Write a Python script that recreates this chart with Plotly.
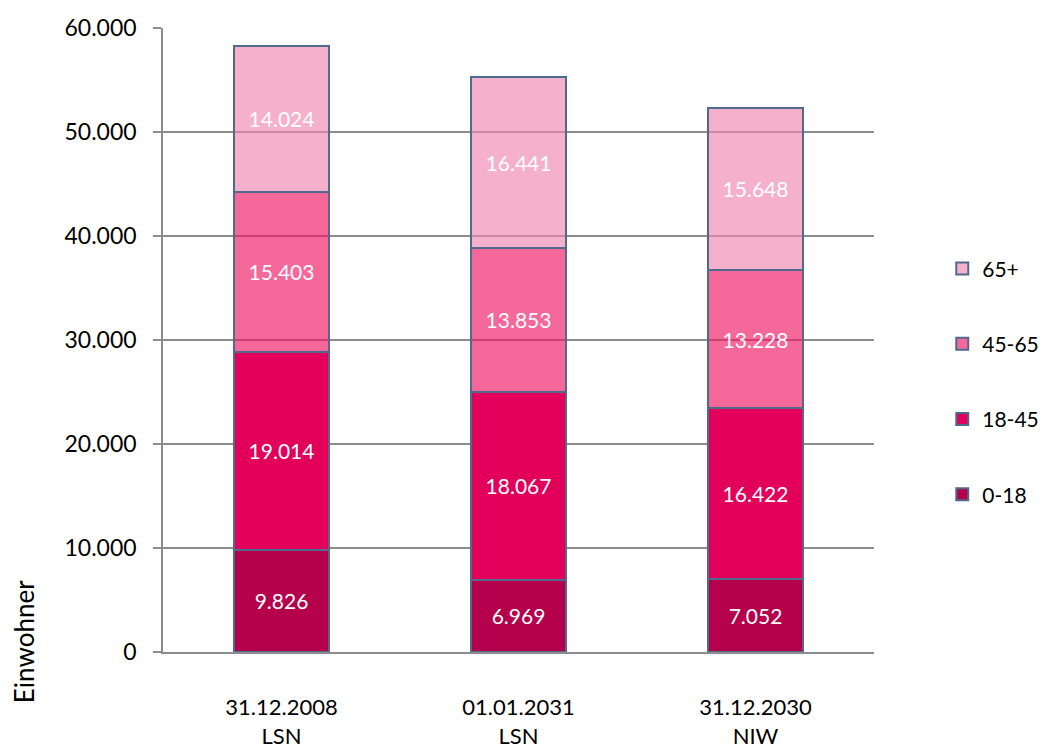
import plotly.graph_objects as go

categories = ["31.12.2008<br>LSN", "01.01.2031<br>LSN", "31.12.2030<br>NIW"]
series_names = ["0-18", "18-45", "45-65", "65+"]
v_0_18 = [9826, 6969, 7052]
v_18_45 = [19014, 18067, 16422]
v_45_65 = [15403, 13853, 13228]
v_65 = [14024, 16441, 15648]
y_ticks = [0, 10000, 20000, 30000, 40000, 50000, 60000]

series_values = [v_0_18, v_18_45, v_45_65, v_65]
colors = ["#B5004B", "#E2005A", "rgba(240,23,100,0.65)", "rgba(240,134,177,0.65)"]

FONT = "Lato"
fig = go.Figure()
for i, (name, vals, col) in enumerate(zip(series_names, series_values, colors)):
    fig.add_trace(go.Bar(
        x=categories, y=vals, name=name, legendgroup=name,
        legendrank=100 - i,
        marker=dict(color=col, line=dict(color="#4F6A8C", width=2)),
        texttemplate="%{y:,d}", textposition="inside", insidetextanchor="middle",
        textfont=dict(color="white", size=21, family=FONT),
        width=0.4,
    ))

fig.update_layout(
    barmode="stack",
    separators=",.",
    width=1039, height=743,
    margin=dict(l=155, r=173, t=20, b=99, autoexpand=False),
    plot_bgcolor="white", paper_bgcolor="white",
    font=dict(family=FONT, size=23, color="black"),
    showlegend=True,
    legend=dict(x=1.096, y=0.647, xanchor="left", yanchor="top",
                traceorder="grouped", tracegroupgap=45,
                font=dict(size=21, family=FONT), itemwidth=30),
    annotations=[dict(text="Einwohner", textangle=-90, xref="paper", yref="paper",
                      x=-0.196, y=-0.085, xanchor="center", yanchor="bottom",
                      showarrow=False, font=dict(size=26, family=FONT))],
)
fig.update_yaxes(range=[0, 60000], tickvals=y_ticks, tickformat=",d",
                 showgrid=True, gridcolor="#8C8C8C", gridwidth=1.5,
                 showline=True, linecolor="#8C8C8C", linewidth=1.5,
                 ticks="outside", ticklen=8, tickcolor="#8C8C8C", tickwidth=1.5,
                 ticklabelstandoff=12, zeroline=False, automargin=False)
fig.update_xaxes(showline=True, linecolor="#8C8C8C", linewidth=1.5,
                 tickfont=dict(size=22),
                 ticks="", ticklabelstandoff=35, showgrid=False, automargin=False)

fig.write_html("out.html")
